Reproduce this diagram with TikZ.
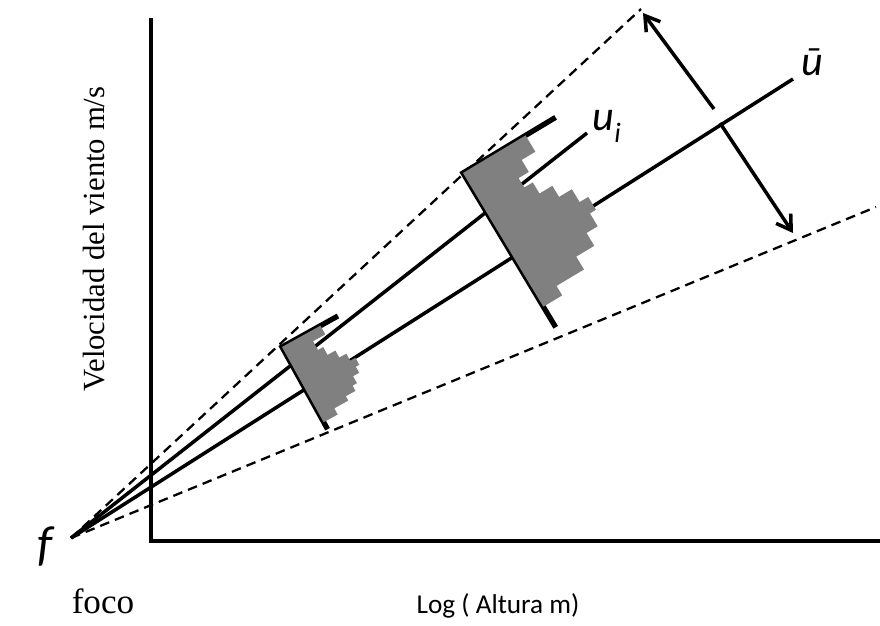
\documentclass[tikz,border=0pt]{standalone}
\usepackage{fontspec}
\setmainfont{Liberation Serif}
\newfontfamily\calibri{Carlito}
\usetikzlibrary{arrows.meta}

\begin{document}
\begin{tikzpicture}[x=0.02cm,y=-0.02cm,line width=2pt]
\useasboundingbox (0,0) rectangle (880,626);

% Ejes
\coordinate (ejeTop) at (151,18);
\coordinate (ejeO) at (151,541);
\coordinate (ejeRight) at (880,541);
\draw[line width=2.3pt] (ejeTop) -- (ejeO) -- (ejeRight);

% Foco y rectas
\coordinate (foco) at (71,538);
\coordinate (dashUp) at (641,9);
\coordinate (dashLow) at (876,207);
\coordinate (ubar) at (793,79);
\coordinate (ui) at (587,133);

\draw[line width=1.3pt,dash pattern=on 5.5pt off 3.5pt] (foco) -- (dashUp);
\draw[line width=1.3pt,dash pattern=on 5.5pt off 3.5pt] (foco) -- (dashLow);
\draw (foco) -- (ubar);
\draw (foco) -- (ui);

% Flechas
\coordinate (arrA) at (714,109);
\coordinate (arrB) at (643,13);
\coordinate (arrC) at (720,123);
\coordinate (arrD) at (793,233);
\draw[-{Straight Barb[length=8pt,width=10pt]}] (arrA) -- (arrB);
\draw[-{Straight Barb[length=8pt,width=10pt]}] (arrC) -- (arrD);

% Histograma pequeno
\begin{scope}[shift={(282,347)},rotate=29]
\draw[line width=3pt] (64,0) -- (0,0) -- (0,94);
\fill[gray] (0,0) -- (44,0) -- (44,10) -- (30,10) -- (30,20) -- (36,20)
  -- (36,29) -- (45,29) -- (45,37) -- (53,37) -- (53,45) -- (59,45)
  -- (59,53) -- (55,53) -- (55,60) -- (48,60) -- (48,68) -- (43,68)
  -- (43,74) -- (32,74) -- (32,79) -- (16,79) -- (16,86) -- (0,86) -- cycle;
\end{scope}

% Histograma grande
\begin{scope}[shift={(463,173)},rotate=31]
\draw[line width=3pt] (108,0) -- (0,0) -- (0,180);
\fill[gray] (0,0) -- (73,0) -- (73,19) -- (57,19) -- (57,33) -- (45,33)
  -- (45,44) -- (55,44) -- (55,57) -- (70,57) -- (70,70) -- (85,70)
  -- (85,85) -- (95,85) -- (95,100) -- (88,100) -- (88,115) -- (75,115)
  -- (75,130) -- (54,130) -- (54,145) -- (22,145) -- (22,156) -- (0,156) -- cycle;
\end{scope}

% Textos
\node[font=\calibri\itshape\fontsize{28}{32}\selectfont,anchor=base] (fLabel) at (45,560) {f};
\node[font=\calibri\itshape\fontsize{24}{28}\selectfont,anchor=base] (ubarLabel) at (812,75) {ū};
\node[font=\calibri\itshape\fontsize{24}{28}\selectfont,anchor=base west,inner sep=0pt] (uiLabel) at (591,130)
  {u\raisebox{-7pt}{\fontsize{16}{18}\selectfont i}};
\node[font=\fontsize{20}{24}\selectfont,anchor=base west,inner sep=0pt] (focoLabel) at (70,613) {foco};
\node[font=\calibri\fontsize{15.5}{18}\selectfont,anchor=base] (xLabel) at (498,613) {Log ( Altura m)};
\node[font=\fontsize{17.5}{21}\selectfont,anchor=base,rotate=90,inner sep=0pt] (yLabel) at (104,239)
  {Velocidad del viento m/s};

\end{tikzpicture}
\end{document}
